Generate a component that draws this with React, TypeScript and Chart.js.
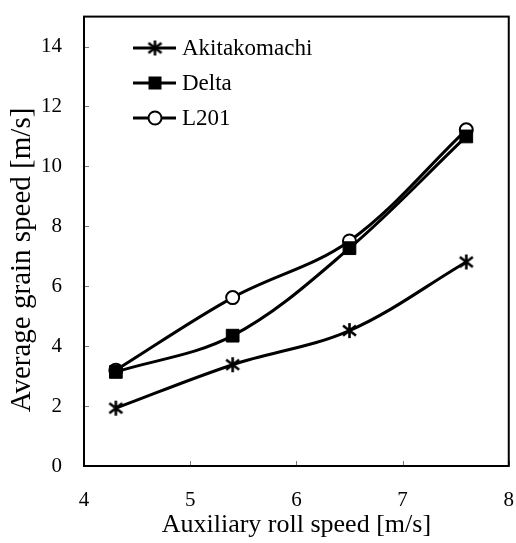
import React, { useEffect, useRef } from "react";
import { Chart, registerables } from "chart.js";

Chart.register(...registerables);

const xValues = [4.3, 5.4, 6.5, 7.6];
const akitakomachi = [1.93, 3.38, 4.52, 6.81];
const delta = [3.14, 4.35, 7.27, 11.0];
const l201 = [3.2, 5.62, 7.51, 11.22];
const seriesNames = ["Akitakomachi", "Delta", "L201"];
const yTickValues = [0, 2, 4, 6, 8, 10, 12, 14];
const xTickValues = [4, 5, 6, 7, 8];
const xTitle = "Auxiliary roll speed [m/s]";
const yTitle = "Average grain speed [m/s]";

const FONT = "'Liberation Serif', 'Times New Roman', serif";
const SHIFT_Y = 10;

function makeAsterisk(): HTMLCanvasElement {
  const c = document.createElement("canvas");
  c.width = 17;
  c.height = 17;
  const g = c.getContext("2d")!;
  g.strokeStyle = "#000";
  g.lineWidth = 2.6;
  g.lineCap = "butt";
  g.beginPath();
  g.moveTo(8.5, 1);
  g.lineTo(8.5, 16);
  g.moveTo(2, 3.5);
  g.lineTo(15, 13.5);
  g.moveTo(2, 13.5);
  g.lineTo(15, 3.5);
  g.stroke();
  return c;
}

export default function App() {
  const ref = useRef<HTMLCanvasElement>(null);
  useEffect(() => {
    const star = makeAsterisk();
    const toPts = (arr: number[]) => arr.map((y, i) => ({ x: xValues[i], y }));

    const framePlugin = {
      id: "frame",
      afterDatasetsDraw(chart: any) {
        const { ctx, chartArea: a, scales } = chart;
        ctx.save();
        ctx.strokeStyle = "#777";
        ctx.lineWidth = 1;
        ctx.beginPath();
        yTickValues.forEach((v) => {
          const y = Math.round(scales.y.getPixelForValue(v)) + 0.5;
          ctx.moveTo(a.left, y);
          ctx.lineTo(a.left + 5, y);
        });
        xTickValues.forEach((v) => {
          const x = Math.round(scales.x.getPixelForValue(v)) + 0.5;
          ctx.moveTo(x, a.bottom);
          ctx.lineTo(x, a.bottom - 5);
        });
        ctx.stroke();
        ctx.strokeStyle = "#000";
        ctx.lineWidth = 2;
        ctx.strokeRect(a.left, a.top, a.right - a.left, a.bottom - a.top);

        // y-axis title
        ctx.save();
        ctx.translate(22, 260 + SHIFT_Y);
        ctx.rotate(-Math.PI / 2);
        ctx.fillStyle = "#000";
        ctx.font = `29px ${FONT}`;
        ctx.textAlign = "center";
        ctx.textBaseline = "middle";
        ctx.fillText(yTitle, 0, 0);
        ctx.restore();

        const items = [
          { name: seriesNames[0], kind: "star" },
          { name: seriesNames[1], kind: "rect" },
          { name: seriesNames[2], kind: "circle" },
        ];
        const lx0 = 133, lx1 = 176, mx = 155;
        const ys = [48, 83, 118].map((v) => v + SHIFT_Y);
        items.forEach((it, i) => {
          const y = ys[i];
          ctx.strokeStyle = "#000";
          ctx.lineWidth = 3;
          ctx.beginPath();
          ctx.moveTo(lx0, y);
          ctx.lineTo(lx1, y);
          ctx.stroke();
          if (it.kind === "star") {
            ctx.drawImage(star, mx - 8.5, y - 8.5);
          } else if (it.kind === "rect") {
            ctx.fillStyle = "#000";
            ctx.fillRect(mx - 6.5, y - 6.5, 13, 13);
          } else {
            ctx.fillStyle = "#fff";
            ctx.lineWidth = 2;
            ctx.beginPath();
            ctx.arc(mx, y, 6.5, 0, Math.PI * 2);
            ctx.fill();
            ctx.stroke();
          }
          ctx.fillStyle = "#000";
          ctx.font = `23px ${FONT}`;
          ctx.textAlign = "left";
          ctx.textBaseline = "middle";
          ctx.fillText(it.name, 182, y + 1);
        });
        ctx.restore();
      },
    };

    const common = {
      borderColor: "#000",
      borderWidth: 3,
      tension: 0.35,
      pointBorderColor: "#000",
    };

    const chart = new Chart(ref.current!, {
      type: "line",
      data: {
        datasets: [
          {
            ...common,
            label: seriesNames[0],
            data: toPts(akitakomachi),
            pointStyle: star as any,
            pointRadius: 8,
            backgroundColor: "#000",
          },
          {
            ...common,
            label: seriesNames[1],
            data: toPts(delta),
            pointStyle: "rect",
            pointRadius: 9,
            pointBorderWidth: 1,
            pointBackgroundColor: "#000",
            backgroundColor: "#000",
          },
          {
            ...common,
            label: seriesNames[2],
            data: toPts(l201),
            pointStyle: "circle",
            pointRadius: 6.5,
            pointBorderWidth: 2,
            pointBackgroundColor: "#fff",
            backgroundColor: "#fff",
          },
        ],
      },
      options: {
        animation: false,
        responsive: false,
        maintainAspectRatio: false,
        layout: { padding: 0 },
        plugins: { legend: { display: false }, tooltip: { enabled: false } },
        scales: {
          x: {
            type: "linear",
            min: 4,
            max: 8,
            grid: { display: false },
            border: { display: false },
            afterBuildTicks: (s: any) => {
              s.ticks = xTickValues.map((v) => ({ value: v }));
            },
            afterFit: (s: any) => {
              s.height = 77;
            },
            ticks: {
              padding: 14,
              color: "#000",
              font: { family: FONT, size: 21 },
            },
            title: {
              display: true,
              text: xTitle,
              color: "#000",
              font: { family: FONT, size: 26 },
              padding: { top: 0, bottom: 2 },
            },
          },
          y: {
            type: "linear",
            min: 0,
            max: 15,
            grid: { display: false },
            border: { display: false },
            afterBuildTicks: (s: any) => {
              s.ticks = yTickValues.map((v) => ({ value: v }));
            },
            afterFit: (s: any) => {
              s.width = 84;
            },
            ticks: {
              padding: 14,
              color: "#000",
              font: { family: FONT, size: 21 },
            },
          },
        },
      },
      plugins: [framePlugin],
    });
    return () => chart.destroy();
  }, []);

  return (
    <div style={{ position: "fixed", left: 0, top: 0, width: 516, height: 543, overflow: "hidden", background: "#fff" }}>
      <canvas
        ref={ref}
        width={528}
        height={543 + SHIFT_Y}
        style={{ width: 528, height: 543 + SHIFT_Y, display: "block", position: "absolute", left: 0, top: -SHIFT_Y }}
      />
    </div>
  );
}
